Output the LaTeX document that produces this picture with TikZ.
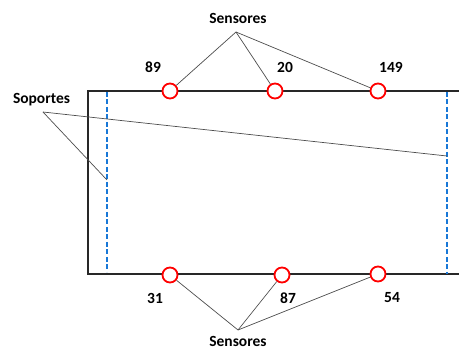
\documentclass[tikz,border=0pt]{standalone}
\usepackage{fontspec}
\setmainfont{Carlito}
\usepackage{tikz}
\usetikzlibrary{positioning}
\definecolor{supblue}{RGB}{25,120,215}
\definecolor{framegray}{RGB}{40,40,40}

\begin{document}
\begin{tikzpicture}[x=1pt, y=-1pt, font=\fontsize{15.5}{18}\selectfont\bfseries,
  frame/.style={line width=1.8pt, draw=framegray},
  support/.style={line width=2.3pt, draw=supblue, dash pattern=on 5pt off 2.5pt},
  sensor/.style={circle, draw=red, fill=white, line width=1.8pt,
                 minimum size=15pt, inner sep=0pt},
  lead/.style={line width=0.7pt, draw=black!70},
  lbl/.style={inner sep=0pt}]
\useasboundingbox (0,0) rectangle (459,350);
\draw[frame] (459,91) -- (88,91) -- (88,274) -- (459,274);
\draw[support] (107,92) -- (107,272);
\draw[support] (447,92) -- (447,274);
\node[sensor] (s89) at (170,91) {};
\node[sensor] (s20) at (275,91) {};
\node[sensor] (s149) at (378,91) {};
\node[sensor] (s31) at (170,275) {};
\node[sensor] (s87) at (282,275) {};
\node[sensor] (s54) at (378,274) {};
\node[lbl] (n89) at (153,67) {89};
\node[lbl] (n20) at (285,67) {20};
\node[lbl] (n149) at (391,67) {149};
\node[lbl] (n31) at (155,298) {31};
\node[lbl] (n87) at (288,298) {87};
\node[lbl] (n54) at (392,298) {54};
\node[lbl] (senstop) at (238,18) {Sensores};
\node[lbl] (sensbot) at (238,341) {Sensores};
\node[lbl] (sop) at (41.5,100) {Soportes};
\coordinate (apextop) at (236,32);
\coordinate (apexbot) at (238,330);
\coordinate (apexsop) at (43,112);
\coordinate (supleft) at (107,180);
\coordinate (supright) at (447,156);
\draw[lead] (apextop) -- (s89);
\draw[lead] (apextop) -- (s20);
\draw[lead] (apextop) -- (s149);
\draw[lead] (apexbot) -- (s31);
\draw[lead] (apexbot) -- (s87);
\draw[lead] (apexbot) -- (s54);
\draw[lead] (apexsop) -- (supleft);
\draw[lead] (apexsop) -- (supright);
\end{tikzpicture}
\end{document}
